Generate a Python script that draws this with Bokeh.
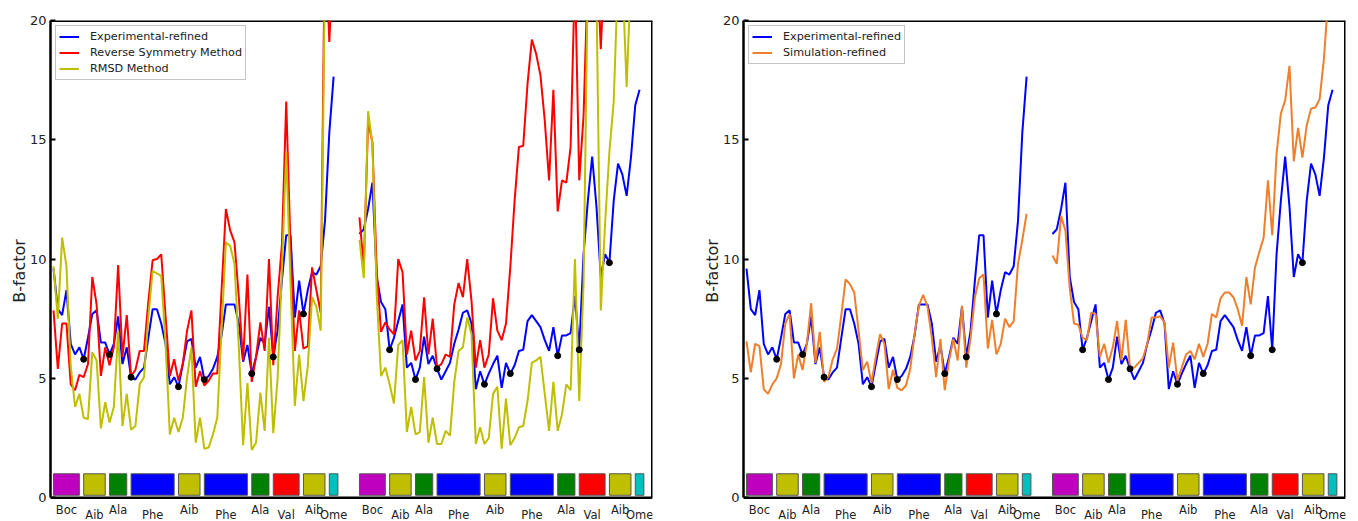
from bokeh.plotting import figure
from bokeh.models import Range1d, FixedTicker, ColumnDataSource
from bokeh.core.properties import value
from bokeh.layouts import row
from bokeh.embed import file_html
from bokeh.resources import INLINE

# ---------------- data ----------------
res_names = ["Boc", "Aib", "Ala", "Phe", "Aib", "Phe", "Ala", "Val", "Aib", "Ome"]
res_start = [0, 7, 13, 18, 29, 35, 46, 51, 58, 64]
res_end = [6, 12, 17, 28, 34, 45, 50, 57, 63, 66]
res_colors = ["#BF00BF", "#BFBF00", "#008000", "#0000FF", "#BFBF00",
              "#0000FF", "#008000", "#FF0000", "#BFBF00", "#00BFBF"]
mol2_offset = 71
n_atoms = 66
dot_atoms = [7, 13, 18, 29, 35, 46, 51, 58]

exp_mol1 = [9.6, 7.9, 7.65, 8.7, 6.45, 6.0, 6.3, 5.8, 6.7, 7.7,
            7.85, 6.5, 6.5, 6.0, 6.45, 7.6, 5.6, 6.3, 5.05, 4.95,
            5.25, 5.45, 6.7, 7.9, 7.9, 7.3, 6.45, 4.75, 5.05, 4.65,
            5.6, 6.55, 6.65, 5.45, 5.9, 4.95, 5.1, 5.4, 5.9, 6.8,
            8.1, 8.1, 8.1, 7.3, 5.7, 6.4, 5.2, 5.9, 6.7, 6.45,
            8.0, 5.9, 7.0, 9.1, 11.0, 11.0, 7.55, 9.1, 7.7, 8.7,
            9.45, 9.35, 9.7, 11.6, 15.3, 17.65]
exp_mol2 = [11.05, 11.25, 12.1, 13.2, 9.25, 8.2, 7.9, 6.2, 6.7, 7.4,
            8.1, 5.45, 5.65, 4.95, 5.45, 6.75, 5.6, 5.95, 5.4, 4.95,
            5.3, 5.65, 6.45, 7.05, 7.75, 7.85, 7.3, 4.55, 5.3, 4.75,
            5.2, 5.6, 5.95, 4.6, 5.65, 5.2, 5.55, 6.15, 6.2, 7.4,
            7.65, 7.4, 7.15, 6.6, 6.15, 7.15, 5.95, 6.8, 6.8, 6.9,
            8.45, 6.2, 10.2, 12.45, 14.3, 12.2, 9.25, 10.2, 9.85, 12.45,
            14.0, 13.55, 12.65, 14.25, 16.45, 17.1]
rsm_mol1 = [7.85, 5.4, 7.3, 7.3, 4.75, 4.5, 5.15, 5.05, 5.6, 9.25,
            8.1, 5.1, 6.3, 5.55, 6.3, 9.75, 5.9, 7.65, 5.1, 5.35,
            6.15, 6.15, 8.2, 9.95, 10.0, 10.2, 7.6, 5.1, 5.8, 4.9,
            5.6, 7.0, 7.85, 4.65, 5.3, 4.7, 4.9, 5.2, 5.2, 8.7,
            12.1, 11.2, 10.7, 8.4, 5.75, 9.35, 4.85, 5.9, 7.35, 6.15,
            10.0, 5.55, 8.4, 10.6, 16.6, 10.5, 6.15, 7.85, 6.25, 6.35,
            9.65, 8.7, 7.75, 24.0, 19.1, 23.0]
rsm_mol2 = [11.75, 9.65, 15.8, 14.9, 9.5, 6.95, 7.35, 7.05, 6.85, 10.0,
            9.45, 6.0, 7.0, 5.75, 6.15, 8.4, 6.0, 7.5, 5.45, 5.6,
            6.0, 5.9, 8.1, 9.0, 8.4, 10.0, 8.25, 5.45, 6.6, 5.45,
            6.0, 8.35, 7.0, 6.6, 7.3, 9.65, 12.45, 14.7, 14.75, 17.35,
            19.2, 18.6, 17.7, 15.8, 13.3, 17.1, 12.0, 13.3, 13.2, 14.7,
            22.0, 13.3, 16.0, 22.0, 24.0, 23.0, 18.8, 23.0, 25.0, 26.0,
            25.0, 26.0, 27.0, 27.0, 28.0, 29.0]
rmsd_mol1 = [9.7, 7.5, 10.9, 9.7, 5.5, 3.8, 4.35, 3.35, 3.3, 6.1,
             5.75, 2.9, 4.0, 3.15, 3.8, 7.0, 3.0, 4.35, 2.85, 3.0,
             4.75, 5.05, 7.55, 9.5, 9.4, 9.3, 6.45, 2.65, 3.35, 2.75,
             3.35, 5.05, 6.3, 2.3, 3.35, 2.05, 2.1, 2.65, 3.35, 7.0,
             10.7, 10.55, 9.8, 6.3, 2.2, 4.8, 2.0, 2.3, 4.4, 2.8,
             6.7, 2.7, 5.0, 9.5, 14.5, 9.0, 3.85, 6.0, 4.05, 5.5,
             8.4, 8.0, 7.0, 22.0, 21.0, 24.0]
rmsd_mol2 = [10.8, 9.2, 16.2, 14.8, 8.5, 5.1, 5.45, 4.75, 3.95, 6.4,
             6.6, 2.75, 3.8, 2.65, 2.75, 5.05, 2.3, 3.35, 2.25, 2.25,
             2.8, 2.6, 4.85, 6.15, 6.3, 7.55, 6.85, 2.25, 2.95, 2.25,
             2.5, 4.35, 4.65, 2.05, 4.15, 2.2, 2.5, 2.95, 3.0, 4.05,
             5.65, 5.75, 5.9, 4.35, 2.8, 4.85, 2.8, 3.5, 4.75, 4.5,
             10.0, 4.05, 9.0, 22.0, 22.0, 21.0, 7.85, 11.5, 14.5, 16.6,
             22.0, 22.0, 17.2, 22.0, 24.0, 25.0]
sim_mol1 = [6.55, 5.25, 6.45, 6.35, 4.55, 4.35, 4.75, 5.0, 5.6, 7.3,
            7.7, 5.0, 6.0, 5.35, 6.45, 8.15, 5.65, 6.95, 4.85, 5.05,
            5.8, 6.25, 7.65, 9.15, 8.95, 8.6, 7.0, 5.35, 5.7, 4.8,
            5.9, 6.85, 6.45, 4.55, 5.35, 4.6, 4.5, 4.7, 5.4, 6.85,
            8.05, 8.5, 8.0, 6.7, 5.05, 6.65, 4.5, 5.75, 6.65, 5.75,
            8.05, 5.45, 6.7, 8.4, 9.2, 9.35, 6.25, 7.45, 6.0, 6.45,
            7.5, 7.15, 7.4, 9.8, 10.8, 11.9]
sim_mol2 = [10.15, 9.8, 11.8, 11.2, 8.8, 7.3, 7.25, 6.7, 6.6, 7.75,
            7.7, 5.9, 6.45, 5.65, 6.3, 7.4, 5.75, 7.45, 5.45, 5.45,
            5.65, 5.85, 6.45, 7.55, 7.55, 7.6, 7.35, 5.45, 6.5, 4.9,
            5.45, 6.0, 6.15, 5.8, 6.45, 5.9, 6.45, 7.7, 7.55, 8.35,
            8.6, 8.6, 8.4, 7.9, 7.2, 9.25, 8.1, 9.65, 10.3, 10.9,
            13.3, 11.0, 14.4, 16.1, 16.65, 18.1, 14.1, 15.5, 14.25, 15.6,
            16.3, 16.35, 16.7, 18.4, 21.0, 23.0]

y_ticks = [0, 5, 10, 15, 20]

# ---------------- helpers ----------------
NAN = float("nan")
x_mol1 = list(range(n_atoms))
x_mol2 = [mol2_offset + j for j in range(n_atoms)]
x_all = x_mol1 + [NAN] + x_mol2


def joined(a, b):
    return list(a) + [NAN] + list(b)


FONT = "DejaVu Sans"
X0, X1 = -0.7, 139.0
Y_TOP = 20
Y_BOTTOM_ROOM = -1.0   # room under the axis for residue names


def make_fig(width, border_right):
    p = figure(width=width, height=521, x_range=Range1d(X0, X1),
               y_range=Range1d(Y_BOTTOM_ROOM, Y_TOP), output_backend="svg",
               toolbar_location=None, x_axis_location=None,
               min_border_left=50, min_border_right=border_right,
               min_border_top=20, min_border_bottom=0)
    p.grid.visible = False
    p.outline_line_color = None
    p.background_fill_color = "white"
    p.border_fill_color = "white"
    # y axis
    p.yaxis.bounds = (0, Y_TOP)
    p.yaxis.ticker = FixedTicker(ticks=y_ticks)
    p.yaxis.major_tick_in = 5
    p.yaxis.major_tick_out = 0
    p.yaxis.major_tick_line_width = 2
    p.yaxis.minor_tick_line_color = None
    p.yaxis.axis_line_width = 2.5
    p.yaxis.major_label_text_font = FONT
    p.yaxis.major_label_text_font_size = "13px"
    p.yaxis.major_label_text_color = "#222222"
    p.yaxis.major_label_standoff = 4
    p.yaxis.axis_label = "B-factor"
    p.yaxis.axis_label_text_font = FONT
    p.yaxis.axis_label_text_font_size = "16px"
    p.yaxis.axis_label_text_font_style = "normal"
    p.yaxis.axis_label_text_color = "#222222"
    p.yaxis.axis_label_standoff = -2

    # frame spines (bottom, top, right)
    p.segment(x0=[X0], y0=[0], x1=[X1], y1=[0], line_color="black", line_width=2.5)
    p.segment(x0=[X0], y0=[Y_TOP], x1=[X1], y1=[Y_TOP], line_color="black", line_width=3)
    p.segment(x0=[X1], y0=[0], x1=[X1], y1=[Y_TOP], line_color="black", line_width=3)

    # residue bars
    lefts, rights, cols, cx, ly, names = [], [], [], [], [], []
    for off in (0, mol2_offset):
        for i, (nm, s, e, c) in enumerate(zip(res_names, res_start, res_end, res_colors)):
            lefts.append(s + off)
            rights.append(e + off)
            cols.append(c)
            cx.append((s + e) / 2 + off)
            ly.append(-0.52 if i % 2 == 0 else -0.72)
            names.append(nm)
    src = ColumnDataSource(dict(left=lefts, right=rights, color=cols))
    p.quad(left="left", right="right", bottom=0.1, top=1.0, fill_color="color",
           line_color="#555555", line_width=1, source=src)
    lsrc = ColumnDataSource(dict(x=cx, y=ly, text=names))
    p.text(x="x", y="y", text="text", source=lsrc, text_align="center",
           text_baseline="alphabetic", text_font=value(FONT),
           text_font_size=value("11.5px"), text_color="#222222")
    return p


def dots(p):
    xs, ys = [], []
    for a in dot_atoms:
        xs.append(a)
        ys.append(exp_mol1[a])
    for a in dot_atoms:
        xs.append(a + mol2_offset)
        ys.append(exp_mol2[a])
    p.scatter(xs, ys, size=6, color="black")


def style_legend(p):
    lg = p.legend[0]
    lg.location = "top_left"
    lg.margin = 5
    lg.padding = 3
    lg.spacing = 1
    lg.label_text_font = FONT
    lg.label_text_font_size = "11.2px"
    lg.label_text_color = "#222222"
    lg.glyph_width = 20
    lg.glyph_height = 15
    lg.label_height = 15
    lg.label_standoff = 11
    lg.border_line_color = "#888888"
    lg.border_line_width = 1
    lg.background_fill_alpha = 1.0


# ---------------- left panel ----------------
p1 = make_fig(693, 41)
p1.line(x_all, joined(exp_mol1, exp_mol2), line_color="#0000FF", line_width=2,
        legend_label="Experimental-refined")
p1.line(x_all, joined(rsm_mol1, rsm_mol2), line_color="#FF0000", line_width=2,
        legend_label="Reverse Symmetry Method")
p1.line(x_all, joined(rmsd_mol1, rmsd_mol2), line_color="#BFBF00", line_width=2,
        legend_label="RMSD Method")
dots(p1)
style_legend(p1)

# ---------------- right panel ----------------
p2 = make_fig(665, 13)
p2.line(x_all, joined(exp_mol1, exp_mol2), line_color="#0000FF", line_width=2,
        legend_label="Experimental-refined")
p2.line(x_all, joined(sim_mol1, sim_mol2), line_color="#EE7F2D", line_width=2,
        legend_label="Simulation-refined")
dots(p2)
style_legend(p2)

layout = row(p1, p2)
open("out.html", "w").write(file_html(layout, INLINE))
